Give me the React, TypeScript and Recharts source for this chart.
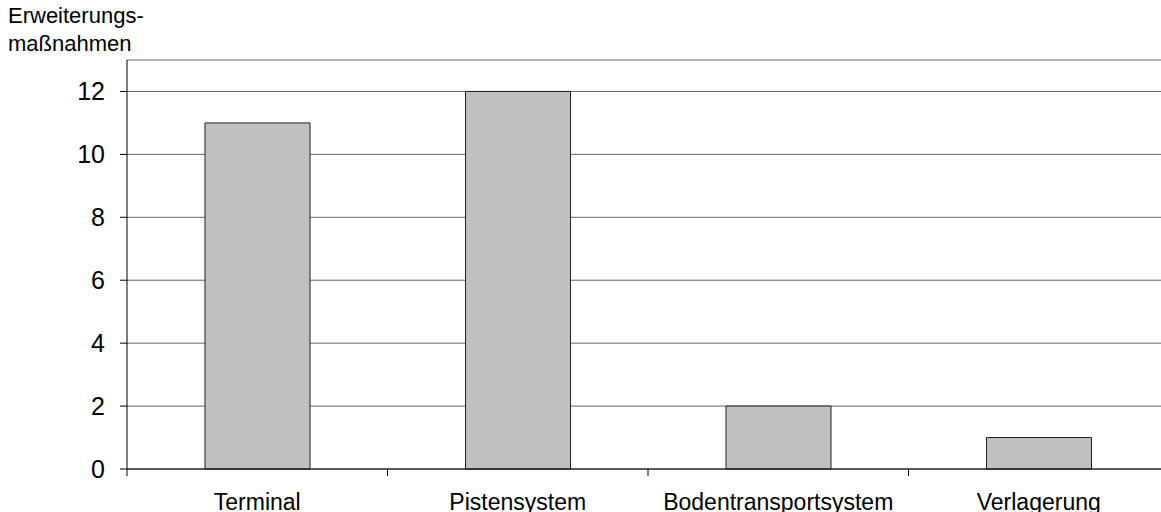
import React from 'react';
import { BarChart, CartesianGrid, XAxis, YAxis, Bar } from 'recharts';

const categories: string[] = ['Terminal', 'Pistensystem', 'Bodentransportsystem', 'Verlagerung'];
const counts: number[] = [11, 12, 2, 1];
const yTicks: number[] = [0, 2, 4, 6, 8, 10, 12];
const axisTitle: string[] = ['Erweiterungs-', 'maßnahmen'];

const FONT = '"Liberation Sans", Arial, sans-serif';

const CategoryTick = (props: any) => {
    const { x, y, payload, width } = props;
    const half = payload && payload.offset ? payload.offset : width / (categories.length * 2);
    const axisY = y - 24;
    return (
        <g>
            <line x1={x - half} y1={axisY} x2={x - half} y2={axisY + 7} stroke="#000" strokeWidth={1} />
            <text x={x} y={y + 16.5} textAnchor="middle" fontSize={23} fontFamily={FONT} fill="#000">
                {payload.value}
            </text>
        </g>
    );
};

const App = () => {
    const data = categories.map((name: string, index: number) => {
        return {
            name: name,
            count: counts[index]
        };
    });

    return (
        <div style={{ position: 'absolute', left: 0, top: 0, width: 1161, height: 512, overflow: 'hidden', background: '#fff' }}>
            <div style={{ position: 'absolute', left: 8, top: 2, fontFamily: FONT, fontSize: 22, lineHeight: '28px', color: '#000' }}>
                {axisTitle.map((line) => (
                    <div key={line}>{line}</div>
                ))}
            </div>
            <BarChart
                width={1169}
                height={512}
                data={data}
                margin={{
                    top: 60,
                    right: 0,
                    left: 0,
                    bottom: 0
                }}
            >
                <CartesianGrid vertical={false} stroke="#666" />
                <XAxis
                    dataKey="name"
                    height={43}
                    axisLine={{ stroke: '#000' }}
                    tickLine={false}
                    tickSize={6}
                    tickMargin={18}
                    interval={0}
                    tick={<CategoryTick />}
                />
                <YAxis
                    width={127}
                    domain={[0, 13]}
                    ticks={yTicks}
                    allowDecimals={false}
                    axisLine={{ stroke: '#000' }}
                    tickLine={{ stroke: '#000' }}
                    tickSize={7}
                    tickMargin={15}
                    tick={{ fontSize: 25, fontFamily: FONT, fill: '#000' }}
                />
                <Bar dataKey="count" fill="#c0c0c0" stroke="#222" strokeWidth={1} barSize={105} isAnimationActive={false} />
            </BarChart>
        </div>
    );
};

export default App;
